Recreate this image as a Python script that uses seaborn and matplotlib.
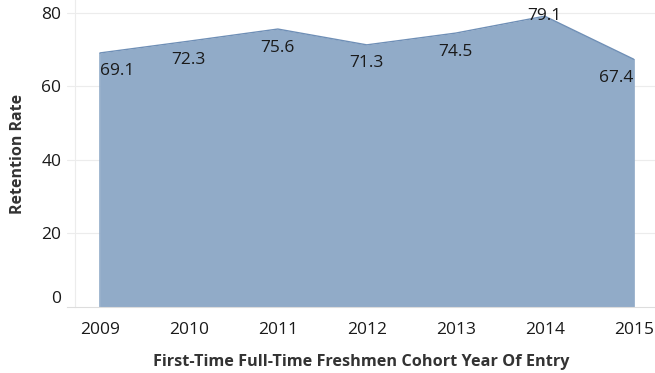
import matplotlib
matplotlib.use("Agg")
import matplotlib.pyplot as plt
import matplotlib.transforms as mtransforms
from matplotlib.ticker import MultipleLocator
import seaborn as sns
import pandas as pd

years = [2009, 2010, 2011, 2012, 2013, 2014, 2015]
retention = [69.1, 72.3, 75.6, 71.3, 74.5, 79.1, 67.4]
y_ticks = [0, 20, 40, 60, 80]

df = pd.DataFrame({"year": years, "rate": retention})

sns.set_theme(style="white")
plt.rcParams["font.family"] = ["Open Sans", "DejaVu Sans"]

fig = plt.figure(figsize=(6.55, 3.73), dpi=100)
ax = fig.add_axes([67 / 655, 66 / 373, 588 / 655, 307 / 373])

fill_col = "#91abc8"
edge_col = "#6f8fb6"

ax.fill_between(df["year"], 0, df["rate"], color=fill_col, linewidth=0, zorder=2)
sns.lineplot(data=df, x="year", y="rate", ax=ax, color=edge_col, linewidth=1.0, zorder=3)
ax.vlines([years[0], years[-1]], 0, [retention[0], retention[-1]], color=fill_col, linewidth=1.2, zorder=2)

ax.set_xlim(2008.63, 2015.24)
ax.set_ylim(0, 83.5)

# grid
ax.set_yticks(y_ticks)
for v in y_ticks[1:]:
    ax.axhline(v, color="#ececec", linewidth=0.8, zorder=0)
ax.tick_params(axis="y", length=6, color="#ececec", width=0.8, labelsize=12.5, pad=4, labelcolor="#1a1a1a")
ax.set_xticks(years)
ax.xaxis.set_minor_locator(MultipleLocator(0.25))
ax.tick_params(axis="x", which="major", length=5, color="#dddddd", width=0.8, labelsize=12.5, pad=6, labelcolor="#1a1a1a")
ax.tick_params(axis="x", which="minor", length=3, color="#dddddd", width=0.8)
ax.set_xticklabels([str(y) for y in years])

for side in ["top", "right"]:
    ax.spines[side].set_visible(False)
ax.spines["left"].set_color("#ececec")
ax.spines["left"].set_linewidth(0.8)
ax.spines["left"].set_position(("outward", -6))
ax.spines["bottom"].set_color("#dddddd")
ax.spines["bottom"].set_linewidth(0.8)

# lift the zero label off the baseline
zero_lbl = ax.get_yticklabels()[0]
zero_lbl.set_transform(zero_lbl.get_transform() + mtransforms.ScaledTranslation(0, 10 / 100, fig.dpi_scale_trans))

# value labels
top_i = retention.index(max(retention))
for i, (x, y) in enumerate(zip(years, retention)):
    ha = "left" if i == 0 else ("right" if i == len(years) - 1 else "center")
    dy = 0 if i == top_i else -18.5
    ax.annotate(f"{y:.1f}", (x, y), xytext=(0, dy * 0.72), textcoords="offset points",
                ha=ha, va="center", fontsize=12.5, color="#1a1a1a", zorder=4)

ax.set_xlabel("First-Time Full-Time Freshmen Cohort Year Of Entry", fontsize=11.7,
              fontweight="bold", color="#333333", labelpad=11)
ax.set_ylabel("Retention Rate", fontsize=11.5, fontweight="bold", color="#333333", labelpad=11)

fig.savefig("out.png", dpi=100)
